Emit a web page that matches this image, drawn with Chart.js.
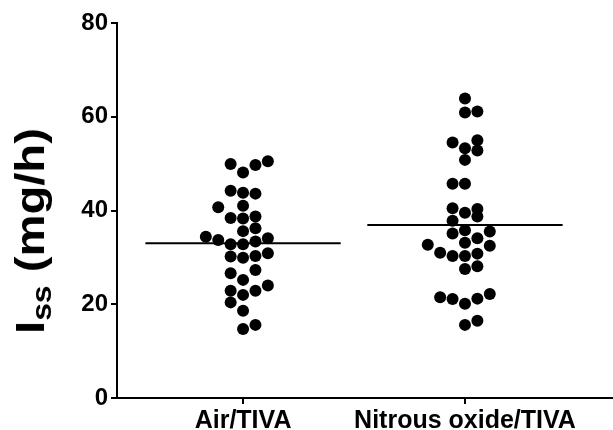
<!DOCTYPE html>
<html><head><meta charset="utf-8">
<script src="https://cdn.jsdelivr.net/npm/chart.js@4.4.1/dist/chart.umd.min.js"></script>
<style>
html,body{margin:0;padding:0;background:#fff;}
#wrap{position:relative;width:613px;height:430px;overflow:hidden;}
#ytitle{position:absolute;left:30px;top:231px;transform:translate(-50%,-50%) rotate(-90deg) scale(1.18,1);font:bold 40px "Liberation Sans",Arial,sans-serif;white-space:nowrap;line-height:1;color:#000;}
#ytitle sub{font-size:27px;vertical-align:-7px;line-height:0;}
</style></head><body>
<div id="wrap"><canvas id="c" width="613" height="430"></canvas><div id="ytitle">I<sub>ss</sub> (mg/h)</div></div>
<script>
const categories = ['Air/TIVA', 'Nitrous oxide/TIVA'];
const yTicks = [0, 20, 40, 60, 80];
const airValues = [49.9, 48.1, 49.7, 50.5, 44.2, 43.8, 43.6, 40.7, 41.0, 38.4, 38.3, 38.7, 35.6, 36.2, 34.4, 33.7, 32.8, 32.8, 33.4, 34.1, 30.2, 29.9, 30.3, 30.9, 26.6, 25.2, 27.3, 22.9, 22.0, 22.9, 24.0, 20.4, 18.6, 14.7, 15.6];
const airSlots = [-1, 0, 1, 2, -1, 0, 1, -2, 0, -1, 0, 1, 0, 1, -3, -2, -1, 0, 1, 2, -1, 0, 1, 2, -1, 0, 1, -1, 0, 1, 2, -1, 0, 0, 1];
const n2oValues = [63.9, 60.9, 61.1, 54.5, 53.3, 55.0, 52.8, 50.8, 45.7, 45.7, 40.5, 39.5, 40.3, 38.7, 37.8, 35.8, 35.1, 34.1, 35.5, 32.7, 33.1, 32.5, 31.0, 30.3, 30.3, 30.8, 27.5, 28.1, 21.5, 21.1, 20.1, 21.2, 22.2, 15.6, 16.5];
const n2oSlots = [0, 0, 1, -1, 0, 1, 1, 0, -1, 0, -1, 0, 1, 1, -1, 0, -1, 1, 2, -3, 0, 2, -2, -1, 0, 1, 0, 1, -2, -1, 0, 1, 2, 0, 1];
const means = [33.0, 36.9];

const SLOT = 0.0559;   // swarm column spacing in category units
const HALF = 0.44;     // half-width of mean line
function swarm(vals, slots, pos) { return vals.map((v, i) => ({x: pos + slots[i] * SLOT, y: v})); }
function meanLine(m, pos) { return [{x: pos - HALF, y: m}, {x: pos + HALF, y: m}]; }

const FONT = {family: '"Liberation Sans", Arial, sans-serif', weight: 'bold', size: 24};
const XFONT = {family: '"Liberation Sans", Arial, sans-serif', weight: 'bold', size: 25};
const pointStyle = {type: 'scatter', pointRadius: 6, pointHoverRadius: 6, backgroundColor: '#000', borderWidth: 0};
const lineStyle = {type: 'line', showLine: true, pointRadius: 0, borderColor: '#000', borderWidth: 2, fill: false};

new Chart(document.getElementById('c'), {
  type: 'scatter',
  data: {
    datasets: [
      Object.assign({label: categories[0] + ' mean', data: meanLine(means[0], 1)}, lineStyle),
      Object.assign({label: categories[1] + ' mean', data: meanLine(means[1], 2)}, lineStyle),
      Object.assign({label: categories[0], data: swarm(airValues, airSlots, 1)}, pointStyle),
      Object.assign({label: categories[1], data: swarm(n2oValues, n2oSlots, 2)}, pointStyle)
    ]
  },
  options: {
    responsive: false,
    devicePixelRatio: 1,
    animation: false,
    layout: {autoPadding: false, padding: {top: 23, right: 0, left: 0, bottom: 0}},
    plugins: {legend: {display: false}, tooltip: {enabled: false}},
    scales: {
      x: {
        type: 'linear', min: 0.432, max: 2.667,
        afterBuildTicks: s => { s.ticks = categories.map((c, i) => ({value: i + 1})); },
        afterFit: s => { s.height = 32; s.paddingRight = 0; s.paddingLeft = 0; },
        ticks: {callback: v => categories[Math.round(v) - 1], font: XFONT, color: '#000', padding: 2, maxRotation: 0, autoSkip: false},
        grid: {drawOnChartArea: false, drawTicks: true, tickLength: 6, color: '#000', lineWidth: 2},
        border: {color: '#000', width: 2}
      },
      y: {
        min: 0, max: 80,
        afterBuildTicks: s => { s.ticks = yTicks.map(v => ({value: v})); },
        afterFit: s => { s.width = 117; },
        ticks: {font: FONT, color: '#000', padding: 3},
        grid: {drawOnChartArea: false, drawTicks: true, tickLength: 6, color: '#000', lineWidth: 2},
        border: {color: '#000', width: 2}
      }
    }
  }
});
</script>
</body></html>
